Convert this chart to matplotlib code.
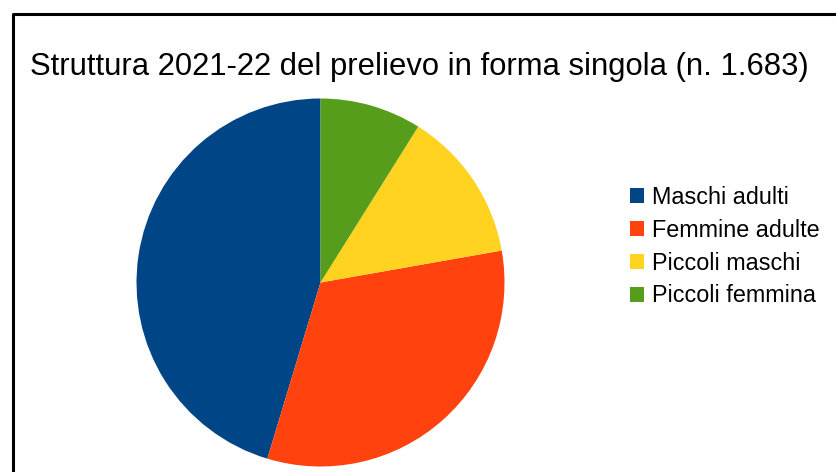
import matplotlib
matplotlib.use("Agg")
import matplotlib.pyplot as plt
from matplotlib.lines import Line2D
from matplotlib.patches import Patch

# --- Dati ---
categorie = ["Maschi adulti", "Femmine adulte", "Piccoli maschi", "Piccoli femmina"]
capi = [763, 546, 224, 150]
colori = ["#004586", "#ff420e", "#ffd320", "#579d1c"]
titolo = "Struttura 2021-22 del prelievo in forma singola (n. 1.683)"

plt.rcParams.update({
    "font.family": ["Liberation Sans", "DejaVu Sans"],
})

W, H = 836, 472
fig = plt.figure(figsize=(W / 100, H / 100), dpi=100)

# cornice (esce a destra e in basso)
fig.add_artist(Line2D([13 / W, 13 / W, 1.05], [-0.05, 1 - 14 / H, 1 - 14 / H],
                      transform=fig.transFigure, color="black", linewidth=2.2))

# torta
cx, cy, r = 320.5, 282.5, 184
ax = fig.add_axes([(cx - r) / W, (H - cy - r) / H, 2 * r / W, 2 * r / H])
wedges, _ = ax.pie(capi, colors=colori, startangle=90, counterclock=True,
                   radius=1.0, wedgeprops=dict(linewidth=0))
ax.set_xlim(-1, 1)
ax.set_ylim(-1, 1)
ax.set_aspect("equal")
ax.axis("off")

fig.text(419 / W, 1 - 67 / H, titolo, ha="center", va="center", fontsize=22.3)

handles = [Patch(facecolor=c, edgecolor="none") for c in colori]
fig.legend(handles, categorie, loc="upper left",
           bbox_to_anchor=(630 / W, 1 - 186 / H), frameon=False,
           fontsize=16.8, handlelength=0.6, handleheight=0.6,
           handletextpad=0.34, labelspacing=0.42, borderaxespad=0,
           borderpad=0)

fig.savefig("out.png", dpi=100)
